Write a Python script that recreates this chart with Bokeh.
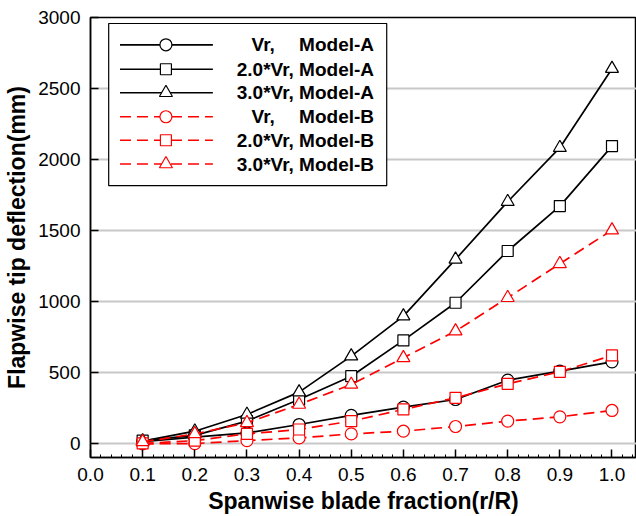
from bokeh.plotting import figure
from bokeh.models import Range1d, FixedTicker, PrintfTickFormatter
from bokeh.embed import file_html
from bokeh.resources import INLINE
from bokeh.core.properties import value

# ---- data ----
fraction = [0.1, 0.2, 0.3, 0.4, 0.5, 0.6, 0.7, 0.8, 0.9, 1.0]
vr_a = [15, 47, 77, 136, 200, 258, 312, 448, 512, 577]
vr2_a = [23, 60, 160, 312, 476, 728, 993, 1357, 1673, 2095]
vr3_a = [19, 89, 207, 364, 617, 899, 1298, 1704, 2084, 2640]
vr_b = [0, 2, 23, 42, 70, 89, 122, 160, 190, 235]
vr2_b = [3, 23, 70, 101, 160, 242, 324, 422, 507, 622]
vr3_b = [14, 70, 148, 277, 418, 605, 793, 1028, 1267, 1504]

prefixes = ["Vr,", "2.0*Vr,", "3.0*Vr,", "Vr,", "2.0*Vr,", "3.0*Vr,"]
models = ["Model-A", "Model-A", "Model-A", "Model-B", "Model-B", "Model-B"]
x_ticks = [0.0, 0.1, 0.2, 0.3, 0.4, 0.5, 0.6, 0.7, 0.8, 0.9, 1.0]
y_ticks = [0, 500, 1000, 1500, 2000, 2500, 3000]

series = [vr_a, vr2_a, vr3_a, vr_b, vr2_b, vr3_b]
markers = ["circle", "square", "triangle", "circle", "square", "triangle"]
msizes = [12, 11, 13, 12, 11, 13]
colors = ["black", "black", "black", "#ff0000", "#ff0000", "#ff0000"]
dashes = ["solid", "solid", "solid", "11 6", "11 6", "11 6"]

FONT = "Liberation Sans"

W, H = 636, 516
left, top, bottom = 90, 17, 59
x_end = 1.047
y_start, y_end = -96, 3000

p = figure(width=W, height=H, output_backend="svg", toolbar_location=None,
           x_range=Range1d(0, x_end), y_range=Range1d(y_start, y_end),
           min_border_left=left, min_border_right=0, min_border_top=top,
           min_border_bottom=bottom)
p.outline_line_color = "black"
p.outline_line_width = 1.5
p.background_fill_color = "white"
p.border_fill_color = "white"

p.xgrid.visible = False
p.ygrid.ticker = FixedTicker(ticks=y_ticks)
p.ygrid.grid_line_color = "#c8c8c8"
p.ygrid.grid_line_width = 2

minor_x = [round(i * 0.02, 2) for i in range(0, 53)]
p.xaxis.ticker = FixedTicker(ticks=x_ticks, minor_ticks=minor_x)
p.xaxis.formatter = PrintfTickFormatter(format="%.1f")
p.yaxis.ticker = FixedTicker(ticks=y_ticks)

for ax in (p.xaxis[0], p.yaxis[0]):
    ax.axis_line_color = "black"
    ax.axis_line_width = 1.5
    ax.major_tick_line_color = "black"
    ax.major_tick_line_width = 1.5
    ax.major_tick_in = 8
    ax.major_tick_out = 0
    ax.major_label_text_font = FONT
    ax.major_label_text_font_size = "19px"
    ax.major_label_text_color = "black"
    ax.axis_label_text_font = FONT
    ax.axis_label_text_font_size = "23px"
    ax.axis_label_text_font_style = "bold"
    ax.axis_label_text_color = "black"

p.xaxis.minor_tick_line_color = "black"
p.xaxis.minor_tick_line_width = 1
p.xaxis.minor_tick_in = 3
p.xaxis.minor_tick_out = 0
p.yaxis.minor_tick_line_color = None

p.xaxis.axis_label = "Spanwise blade fraction(r/R)"
p.yaxis.axis_label = "Flapwise tip deflection(mm)"
p.xaxis.major_label_standoff = 10
p.yaxis.major_label_standoff = 10
p.xaxis.axis_label_standoff = 4
p.yaxis.axis_label_standoff = 5

# ---- series ----
for ys, mk, ms, c, d in zip(series, markers, msizes, colors, dashes):
    p.line(fraction, ys, line_color=c, line_width=1.7, line_dash=d)
    p.scatter(fraction, ys, marker=mk, size=ms, line_color=c, line_width=1.2,
              fill_color="white")

# ---- legend (drawn manually) ----
scale_x = 522.0            # px per x unit
scale_y = 426.6 / 3000.0   # px per y unit
x0px, y0px = 89.5, 443.3


def dx(px):
    return (px - x0px) / scale_x


def dy(py):
    return (y0px - py) / scale_y


p.quad(left=dx(107.7), right=dx(386), top=dy(22.7), bottom=dy(185),
       fill_color="white", line_color="black", line_width=1.2)

row_py = [44, 68.5, 92, 116, 139.5, 163.3]
for i, (pre, mod) in enumerate(zip(prefixes, models)):
    yy = dy(row_py[i])
    p.line([dx(119), dx(212)], [yy, yy], line_color=colors[i], line_width=1.7,
           line_dash=dashes[i])
    p.scatter([dx(165)], [yy], marker=markers[i], size=msizes[i],
              line_color=colors[i], line_width=1.2, fill_color="white")
    kw = dict(text_align="right", text_baseline="middle",
              text_font=value(FONT), text_font_size="19px",
              text_font_style="bold", text_color="black")
    if pre == "Vr,":
        p.text([dx(274)], [yy], text=[pre], **kw)
        p.text([dx(373.3)], [yy], text=[mod], **kw)
    else:
        p.text([dx(373.3)], [yy], text=[pre + " " + mod], **kw)

open("out.html", "w").write(file_html(p, INLINE))
